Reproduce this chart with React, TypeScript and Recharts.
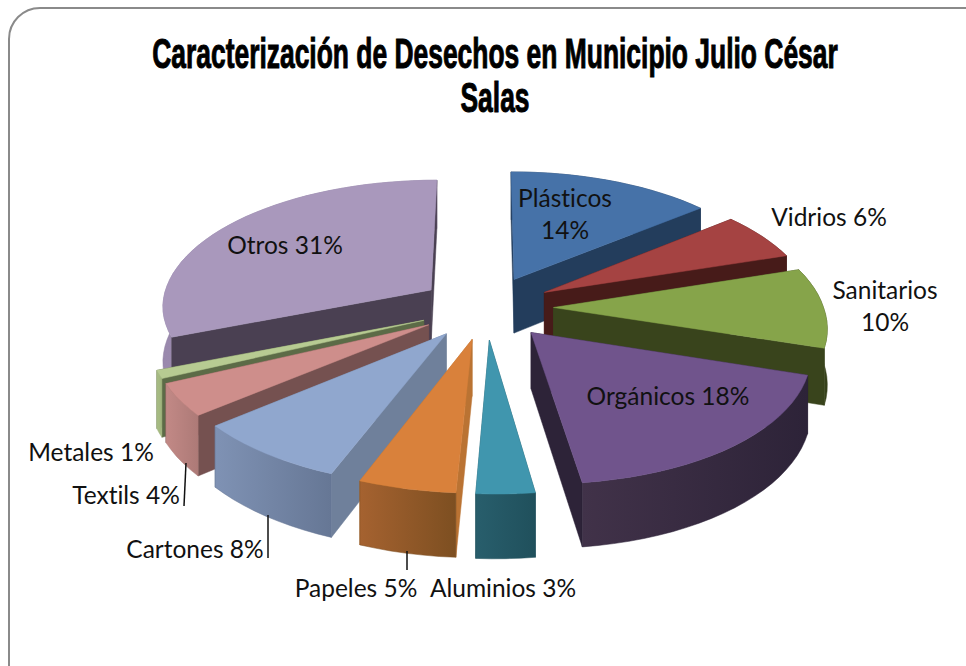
import React from 'react';
import { PieChart, Pie } from 'recharts';

const categories = ['Plásticos', 'Vidrios', 'Sanitarios', 'Orgánicos', 'Aluminios', 'Papeles', 'Cartones', 'Textils', 'Metales', 'Otros'];
const shares = [14, 6, 10, 18, 3, 5, 8, 4, 1, 31];

// top face, radial wall, arc wall from / arc wall to
const COLORS: Record<string, string[]> = {
  'Plásticos': ['#4672a8', '#233d5c', '#2f5078', '#233d5c'],
  'Vidrios': ['#a54342', '#471b19', '#6e2c2b', '#471b19'],
  'Sanitarios': ['#86a44a', '#39441c', '#39441c', '#36411b'],
  'Orgánicos': ['#70548c', '#2d2338', '#413249', '#2d2338'],
  'Aluminios': ['#4096ae', '#225560', '#285e6c', '#20505c'],
  'Papeles': ['#d9813b', '#ba7333', '#a56230', '#7d4f21'],
  'Cartones': ['#90a7ce', '#6f809b', '#7f92b4', '#667795'],
  'Textils': ['#ce8e8b', '#755150', '#c28986', '#ad7a77'],
  'Metales': ['#b7cb92', '#5c6b47', '#a9be85', '#9fb37d'],
  'Otros': ['#a998bc', '#4a4052', '#9a89ad', '#8e7fa0'],
};

const LABELS: Record<string, { lines: string[]; x: number; y: number; leader?: number[] }> = {
  'Plásticos': { lines: ['Plásticos', '14%'], x: 565, y: 207 },
  'Vidrios': { lines: ['Vidrios 6%'], x: 829, y: 226 },
  'Sanitarios': { lines: ['Sanitarios', '10%'], x: 885, y: 299 },
  'Orgánicos': { lines: ['Orgánicos 18%'], x: 668, y: 405 },
  'Aluminios': { lines: ['Aluminios 3%'], x: 503, y: 597 },
  'Papeles': { lines: ['Papeles 5%'], x: 356, y: 597, leader: [407, 551, 407, 570] },
  'Cartones': { lines: ['Cartones 8%'], x: 195, y: 558, leader: [268, 515, 268, 558] },
  'Textils': { lines: ['Textils 4%'], x: 126, y: 504, leader: [186, 463, 184, 506] },
  'Metales': { lines: ['Metales 1%'], x: 91, y: 461 },
  'Otros': { lines: ['Otros 31%'], x: 285, y: 254 },
};

const data = categories.map((name, i) => ({ name, value: shares[i] }));
const reversed = [...data].reverse();
const LEFT_SIDE = ['Papeles', 'Cartones', 'Textils', 'Metales', 'Otros'];
const RIGHT_SIDE = categories.filter((n) => !LEFT_SIDE.includes(n));

const EXPLODE = 0.25;
const TILT = 0.47;
const PERSPECTIVE = 0.12;
const SHEAR = 0.018;
const DEPTH = 55;

const RADIAN = Math.PI / 180;

// pie plane to screen: x right, y to the back of the pie, with some perspective
const project = (cx: number, cy: number, r: number, x: number, y: number, down = 0) => {
  const w = 1 + PERSPECTIVE * y;
  return [cx + ((x - SHEAR * Math.min(y, 0)) * r) / w, cy - (y * r * TILT) / w + (down * DEPTH) / w];
};

const toPath = (pts: number[][]) => 'M' + pts.map((p) => `${p[0].toFixed(1)},${p[1].toFixed(1)}`).join('L') + 'Z';

const sliceShape = (names: string[]) => (props: any) => {
  const { cx, cy, outerRadius, startAngle, endAngle, name } = props;
  if (!names.includes(name)) return <g />;
  // recharts angles are counter-clockwise from east, here they are clockwise from north
  const a0 = (90 - Math.max(startAngle, endAngle)) * RADIAN;
  const a1 = (90 - Math.min(startAngle, endAngle)) * RADIAN;
  const mid = (a0 + a1) / 2;
  const ox = EXPLODE * Math.sin(mid);
  const oy = EXPLODE * Math.cos(mid);
  const steps = Math.max(4, Math.ceil((a1 - a0) / (3 * RADIAN)));
  const arc: number[][] = [];
  for (let i = 0; i <= steps; i++) {
    const a = a0 + ((a1 - a0) * i) / steps;
    arc.push([ox + Math.sin(a), oy + Math.cos(a)]);
  }
  const p = (q: number[], down = 0) => project(cx, cy, outerRadius, q[0], q[1], down);
  const apex = [ox, oy];
  const first = arc[0];
  const last = arc[arc.length - 1];
  const top = [p(apex), ...arc.map((q) => p(q))];
  const arcWall = [...arc.map((q) => p(q)), ...[...arc].reverse().map((q) => p(q, 1))];
  const c = COLORS[name];
  const gradId = `wall-${categories.indexOf(name)}`;
  const walls = [
    { depth: (apex[1] + first[1]) / 2, d: toPath([p(apex), p(first), p(first, 1), p(apex, 1)]), fill: c[1] },
    { depth: (apex[1] + last[1]) / 2, d: toPath([p(apex), p(last), p(last, 1), p(apex, 1)]), fill: c[1] },
    { depth: oy + Math.cos(mid), d: toPath(arcWall), fill: `url(#${gradId})` },
  ].sort((a, b) => b.depth - a.depth);
  return (
    <g>
      <defs>
        <linearGradient id={gradId} x1="0" y1="0" x2="1" y2="0">
          <stop offset="0%" stopColor={c[2]} />
          <stop offset="100%" stopColor={c[3]} />
        </linearGradient>
      </defs>
      {walls.map((w, i) => (
        <path key={i} d={w.d} fill={w.fill} stroke={w.fill.startsWith('url') ? c[3] : w.fill} strokeWidth={0.5} />
      ))}
      <path d={toPath(top)} fill={c[0]} stroke={c[0]} strokeWidth={0.5} />
    </g>
  );
};

const sliceLabel = (names: string[]) => (props: any) => {
  const { name } = props;
  if (!names.includes(name)) return <g />;
  const info = LABELS[name];
  return (
    <g>
      {info.leader && (
        <line x1={info.leader[0]} y1={info.leader[1]} x2={info.leader[2]} y2={info.leader[3]} stroke="#111" strokeWidth={1.5} />
      )}
      {info.lines.map((line, i) => (
        <text
          key={line}
          x={info.x}
          y={info.y + i * 32}
          textAnchor="middle"
          fontFamily="Lato, sans-serif"
          fontSize={24.5}
          fill="#111"
          style={{ fontVariantLigatures: 'none' }}
        >
          {line}
        </text>
      ))}
    </g>
  );
};

export default function App() {
  return (
    <div style={{ position: 'absolute', left: 0, top: 0, width: 966, height: 666, overflow: 'hidden', background: '#fff' }}>
      <div
        style={{
          position: 'absolute',
          left: 8,
          top: 7,
          width: 990,
          height: 690,
          boxSizing: 'border-box',
          border: '2px solid #8a8a8a',
          borderRadius: 32,
        }}
      />
      <svg width={966} height={130} style={{ position: 'absolute', left: 0, top: 0 }}>
        <g fontFamily="'Liberation Sans', sans-serif" fontWeight={700} fontSize={42} fill="#000" stroke="#000" strokeWidth={1}>
          <text transform="translate(495,68) scale(0.629,1)" textAnchor="middle">
            Caracterización de Desechos en Municipio Julio César
          </text>
          <text transform="translate(495,112) scale(0.629,1)" textAnchor="middle">
            Salas
          </text>
        </g>
      </svg>
      <div style={{ position: 'absolute', left: 0, top: 0 }}>
        <PieChart width={966} height={666} margin={{ top: 0, right: 0, bottom: 0, left: 0 }}>
          <Pie
            data={reversed}
            dataKey="value"
            nameKey="name"
            cx={486}
            cy={307.5}
            outerRadius={270}
            startAngle={90}
            endAngle={450}
            stroke="none"
            shape={sliceShape(LEFT_SIDE)}
            label={sliceLabel(LEFT_SIDE)}
            labelLine={false}
            isAnimationActive={false}
          />
          <Pie
            data={data}
            dataKey="value"
            nameKey="name"
            cx={486}
            cy={307.5}
            outerRadius={270}
            startAngle={90}
            endAngle={-270}
            stroke="none"
            shape={sliceShape(RIGHT_SIDE)}
            label={sliceLabel(RIGHT_SIDE)}
            labelLine={false}
            isAnimationActive={false}
          />
        </PieChart>
      </div>
    </div>
  );
}
